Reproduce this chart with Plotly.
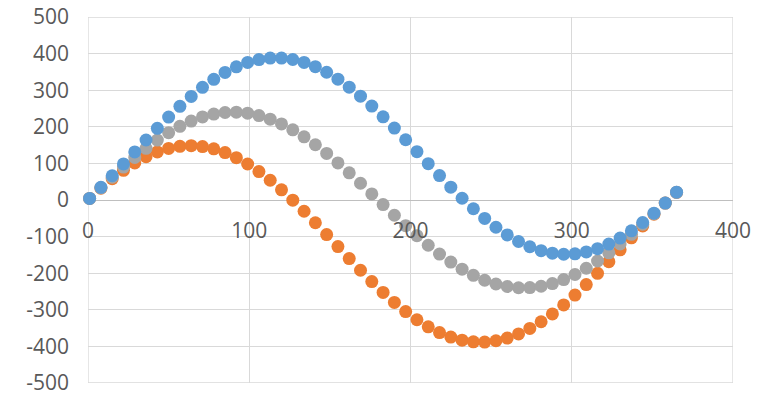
import plotly.graph_objects as go

x_vals = [1, 8, 15, 22, 29, 36, 43, 50, 57, 64, 71, 78, 85, 92, 99, 106, 113, 120,
          127, 134, 141, 148, 155, 162, 169, 176, 183, 190, 197, 204, 211, 218, 225,
          232, 239, 246, 253, 260, 267, 274, 281, 288, 295, 302, 309, 316, 323, 330,
          337, 344, 351, 358, 365]

blue_vals = [4.2, 34.6, 66.2, 98.6, 131.4, 164.0, 195.9, 226.7, 255.9, 283.1, 307.9,
             329.8, 348.6, 364.0, 375.8, 383.8, 387.8, 387.8, 383.9, 376.0, 364.3,
             349.0, 330.2, 308.3, 283.6, 256.5, 227.3, 196.5, 164.6, 132.0, 99.3, 66.8,
             35.1, 4.8, -23.9, -50.4, -74.4, -95.5, -113.4, -127.8, -138.5, -145.3,
             -148.2, -147.1, -142.0, -133.0, -120.3, -103.9, -84.2, -61.5, -36.1, -8.3,
             21.4]

orange_vals = [4.2, 32.2, 58.0, 81.2, 101.3, 118.2, 131.4, 141.0, 146.6, 148.3, 146.0,
               139.7, 129.5, 115.7, 98.3, 77.6, 54.0, 27.8, -0.5, -30.7, -62.2, -94.6,
               -127.3, -160.0, -192.0, -223.0, -252.4, -279.9, -304.9, -327.2, -346.5,
               -362.3, -374.6, -383.0, -387.5, -388.1, -384.6, -377.2, -365.9, -351.0,
               -332.7, -311.2, -286.8, -259.9, -231.0, -200.4, -168.6, -136.1, -103.3,
               -70.8, -39.0, -8.4, 20.5]

gray_vals = [4.2, 33.4, 62.1, 89.9, 116.4, 141.1, 163.7, 183.9, 201.3, 215.7, 226.9,
             234.8, 239.1, 239.9, 237.1, 230.7, 220.9, 207.9, 191.7, 172.6, 151.0,
             127.2, 101.4, 74.2, 45.8, 16.7, -12.6, -41.7, -70.2, -97.6, -123.6, -147.8,
             -169.7, -189.1, -205.7, -219.3, -229.5, -236.4, -239.7, -239.4, -235.6,
             -228.3, -217.5, -203.5, -186.5, -166.7, -144.4, -120.0, -93.8, -66.2,
             -37.5, -8.4, 20.9]

x_ticks = [0, 100, 200, 300, 400]
y_ticks = [-500, -400, -300, -200, -100, 0, 100, 200, 300, 400, 500]
x_range = [0, 400]
y_range = [-500, 500]

GRID = "#D9D9D9"

fig = go.Figure()
for vals, color in [(orange_vals, "#ED7D31"), (gray_vals, "#A5A5A5"), (blue_vals, "#5B9BD5")]:
    fig.add_trace(go.Scatter(x=x_vals, y=vals, mode="markers",
                             marker=dict(size=13, color=color, line=dict(width=0)),
                             showlegend=False, cliponaxis=False))

# plot-area edge gridlines (plotly omits gridlines that sit exactly on the edges)
for yv in y_range:
    fig.add_shape(type="line", xref="paper", yref="y", x0=0, x1=1, y0=yv, y1=yv,
                  line=dict(color=GRID, width=1.3), layer="below")
for xv in x_range:
    fig.add_shape(type="line", xref="x", yref="paper", x0=xv, x1=xv, y0=0, y1=1,
                  line=dict(color=GRID, width=1.3), layer="below")

font = dict(family="Open Sans", size=21, color="#595959")
fig.update_layout(
    width=762, height=394,
    margin=dict(l=87.5, r=28.5, t=17.3, b=11.3, autoexpand=False),
    paper_bgcolor="white", plot_bgcolor="white",
    font=font,
    xaxis=dict(range=x_range, tickvals=x_ticks, ticktext=[str(v) for v in x_ticks],
               showgrid=True, gridcolor=GRID, gridwidth=1.3,
               zeroline=False, showline=False,
               anchor="free", position=0.5, ticks="", ticklabelstandoff=16,
               ticklabeloverflow="allow", automargin=False, tickfont=font),
    yaxis=dict(range=y_range, tickvals=y_ticks, ticktext=[str(v) for v in y_ticks],
               showgrid=True, gridcolor=GRID, gridwidth=1.3,
               zeroline=True, zerolinecolor="#BFBFBF", zerolinewidth=1.3,
               showline=False, ticks="", ticklabelstandoff=18,
               ticklabeloverflow="allow", automargin=False, tickfont=font),
)
fig.write_html("out.html")
